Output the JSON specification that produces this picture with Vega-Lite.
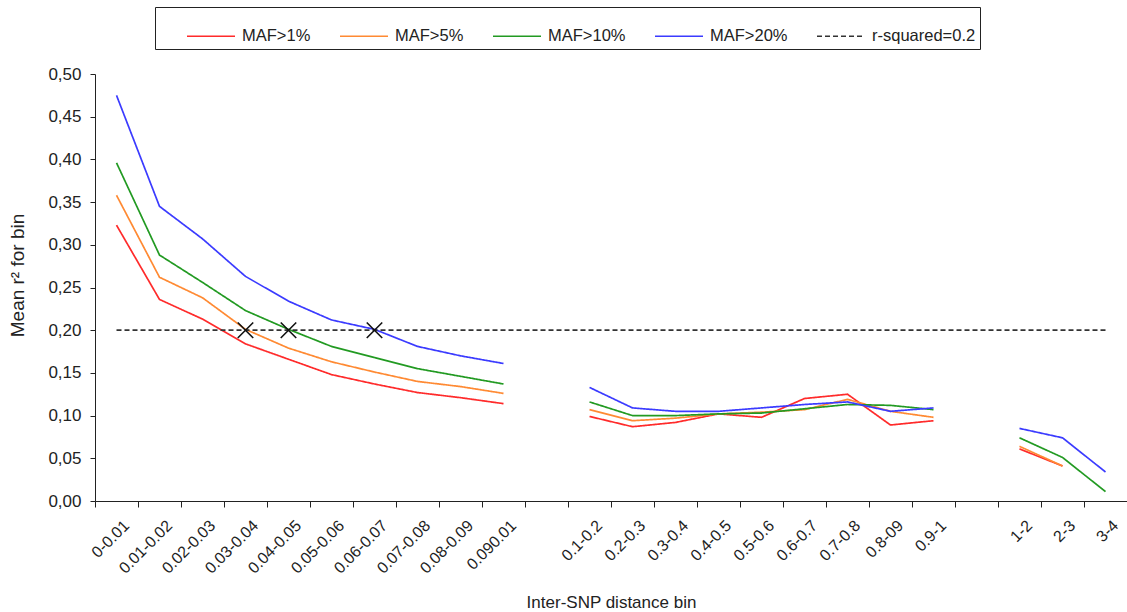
{
  "$schema": "https://vega.github.io/schema/vega-lite/v6.json",
  "autosize": "none",
  "padding": {"left": 95, "top": 74, "right": 0, "bottom": 111},
  "width": 1032,
  "height": 427,
  "background": "white",
  "config": {
    "view": {"stroke": null},
    "font": "Liberation Sans",
    "axis": {
      "domainColor": "#222",
      "tickColor": "#222",
      "labelColor": "#222",
      "titleColor": "#222",
      "grid": false,
      "labelFont": "Liberation Sans",
      "titleFont": "Liberation Sans",
      "titleFontWeight": "normal"
    },
    "legend": {
      "orient": "none",
      "legendX": 60,
      "legendY": -67,
      "direction": "horizontal",
      "columns": 5,
      "strokeColor": "#222",
      "padding": 4,
      "symbolType": "stroke",
      "symbolSize": 2304,
      "symbolStrokeWidth": 1.6,
      "symbolOffset": 27,
      "columnPadding": 1,
      "labelFont": "Liberation Sans",
      "labelFontSize": 16.5,
      "labelColor": "#222",
      "labelOffset": 6
    }
  },
  "datasets": {
    "curves": [
      {"series": "MAF>1%", "seg": "a", "bin": "0-0.01", "r2": 0.323},
      {"series": "MAF>1%", "seg": "a", "bin": "0.01-0.02", "r2": 0.236},
      {"series": "MAF>1%", "seg": "a", "bin": "0.02-0.03", "r2": 0.213},
      {"series": "MAF>1%", "seg": "a", "bin": "0.03-0.04", "r2": 0.184},
      {"series": "MAF>1%", "seg": "a", "bin": "0.04-0.05", "r2": 0.166},
      {"series": "MAF>1%", "seg": "a", "bin": "0.05-0.06", "r2": 0.148},
      {"series": "MAF>1%", "seg": "a", "bin": "0.06-0.07", "r2": 0.137},
      {"series": "MAF>1%", "seg": "a", "bin": "0.07-0.08", "r2": 0.127},
      {"series": "MAF>1%", "seg": "a", "bin": "0.08-0.09", "r2": 0.121},
      {"series": "MAF>1%", "seg": "a", "bin": "0.090.01", "r2": 0.114},
      {"series": "MAF>1%", "seg": "b", "bin": "0.1-0.2", "r2": 0.099},
      {"series": "MAF>1%", "seg": "b", "bin": "0.2-0.3", "r2": 0.087},
      {"series": "MAF>1%", "seg": "b", "bin": "0.3-0.4", "r2": 0.092},
      {"series": "MAF>1%", "seg": "b", "bin": "0.4-0.5", "r2": 0.102},
      {"series": "MAF>1%", "seg": "b", "bin": "0.5-0.6", "r2": 0.098},
      {"series": "MAF>1%", "seg": "b", "bin": "0.6-0.7", "r2": 0.120},
      {"series": "MAF>1%", "seg": "b", "bin": "0.7-0.8", "r2": 0.125},
      {"series": "MAF>1%", "seg": "b", "bin": "0.8-09", "r2": 0.089},
      {"series": "MAF>1%", "seg": "b", "bin": "0.9-1", "r2": 0.094},
      {"series": "MAF>1%", "seg": "c", "bin": "1-2", "r2": 0.061},
      {"series": "MAF>1%", "seg": "c", "bin": "2-3", "r2": 0.041},

      {"series": "MAF>5%", "seg": "a", "bin": "0-0.01", "r2": 0.358},
      {"series": "MAF>5%", "seg": "a", "bin": "0.01-0.02", "r2": 0.262},
      {"series": "MAF>5%", "seg": "a", "bin": "0.02-0.03", "r2": 0.238},
      {"series": "MAF>5%", "seg": "a", "bin": "0.03-0.04", "r2": 0.201},
      {"series": "MAF>5%", "seg": "a", "bin": "0.04-0.05", "r2": 0.179},
      {"series": "MAF>5%", "seg": "a", "bin": "0.05-0.06", "r2": 0.163},
      {"series": "MAF>5%", "seg": "a", "bin": "0.06-0.07", "r2": 0.151},
      {"series": "MAF>5%", "seg": "a", "bin": "0.07-0.08", "r2": 0.140},
      {"series": "MAF>5%", "seg": "a", "bin": "0.08-0.09", "r2": 0.134},
      {"series": "MAF>5%", "seg": "a", "bin": "0.090.01", "r2": 0.126},
      {"series": "MAF>5%", "seg": "b", "bin": "0.1-0.2", "r2": 0.107},
      {"series": "MAF>5%", "seg": "b", "bin": "0.2-0.3", "r2": 0.094},
      {"series": "MAF>5%", "seg": "b", "bin": "0.3-0.4", "r2": 0.097},
      {"series": "MAF>5%", "seg": "b", "bin": "0.4-0.5", "r2": 0.102},
      {"series": "MAF>5%", "seg": "b", "bin": "0.5-0.6", "r2": 0.104},
      {"series": "MAF>5%", "seg": "b", "bin": "0.6-0.7", "r2": 0.107},
      {"series": "MAF>5%", "seg": "b", "bin": "0.7-0.8", "r2": 0.119},
      {"series": "MAF>5%", "seg": "b", "bin": "0.8-09", "r2": 0.105},
      {"series": "MAF>5%", "seg": "b", "bin": "0.9-1", "r2": 0.098},
      {"series": "MAF>5%", "seg": "c", "bin": "1-2", "r2": 0.064},
      {"series": "MAF>5%", "seg": "c", "bin": "2-3", "r2": 0.041},

      {"series": "MAF>10%", "seg": "a", "bin": "0-0.01", "r2": 0.396},
      {"series": "MAF>10%", "seg": "a", "bin": "0.01-0.02", "r2": 0.288},
      {"series": "MAF>10%", "seg": "a", "bin": "0.02-0.03", "r2": 0.256},
      {"series": "MAF>10%", "seg": "a", "bin": "0.03-0.04", "r2": 0.223},
      {"series": "MAF>10%", "seg": "a", "bin": "0.04-0.05", "r2": 0.201},
      {"series": "MAF>10%", "seg": "a", "bin": "0.05-0.06", "r2": 0.181},
      {"series": "MAF>10%", "seg": "a", "bin": "0.06-0.07", "r2": 0.168},
      {"series": "MAF>10%", "seg": "a", "bin": "0.07-0.08", "r2": 0.155},
      {"series": "MAF>10%", "seg": "a", "bin": "0.08-0.09", "r2": 0.146},
      {"series": "MAF>10%", "seg": "a", "bin": "0.090.01", "r2": 0.137},
      {"series": "MAF>10%", "seg": "b", "bin": "0.1-0.2", "r2": 0.116},
      {"series": "MAF>10%", "seg": "b", "bin": "0.2-0.3", "r2": 0.100},
      {"series": "MAF>10%", "seg": "b", "bin": "0.3-0.4", "r2": 0.100},
      {"series": "MAF>10%", "seg": "b", "bin": "0.4-0.5", "r2": 0.102},
      {"series": "MAF>10%", "seg": "b", "bin": "0.5-0.6", "r2": 0.103},
      {"series": "MAF>10%", "seg": "b", "bin": "0.6-0.7", "r2": 0.108},
      {"series": "MAF>10%", "seg": "b", "bin": "0.7-0.8", "r2": 0.113},
      {"series": "MAF>10%", "seg": "b", "bin": "0.8-09", "r2": 0.112},
      {"series": "MAF>10%", "seg": "b", "bin": "0.9-1", "r2": 0.107},
      {"series": "MAF>10%", "seg": "c", "bin": "1-2", "r2": 0.074},
      {"series": "MAF>10%", "seg": "c", "bin": "2-3", "r2": 0.051},
      {"series": "MAF>10%", "seg": "c", "bin": "3-4", "r2": 0.011},

      {"series": "MAF>20%", "seg": "a", "bin": "0-0.01", "r2": 0.475},
      {"series": "MAF>20%", "seg": "a", "bin": "0.01-0.02", "r2": 0.345},
      {"series": "MAF>20%", "seg": "a", "bin": "0.02-0.03", "r2": 0.307},
      {"series": "MAF>20%", "seg": "a", "bin": "0.03-0.04", "r2": 0.263},
      {"series": "MAF>20%", "seg": "a", "bin": "0.04-0.05", "r2": 0.234},
      {"series": "MAF>20%", "seg": "a", "bin": "0.05-0.06", "r2": 0.212},
      {"series": "MAF>20%", "seg": "a", "bin": "0.06-0.07", "r2": 0.201},
      {"series": "MAF>20%", "seg": "a", "bin": "0.07-0.08", "r2": 0.181},
      {"series": "MAF>20%", "seg": "a", "bin": "0.08-0.09", "r2": 0.170},
      {"series": "MAF>20%", "seg": "a", "bin": "0.090.01", "r2": 0.161},
      {"series": "MAF>20%", "seg": "b", "bin": "0.1-0.2", "r2": 0.133},
      {"series": "MAF>20%", "seg": "b", "bin": "0.2-0.3", "r2": 0.109},
      {"series": "MAF>20%", "seg": "b", "bin": "0.3-0.4", "r2": 0.105},
      {"series": "MAF>20%", "seg": "b", "bin": "0.4-0.5", "r2": 0.105},
      {"series": "MAF>20%", "seg": "b", "bin": "0.5-0.6", "r2": 0.109},
      {"series": "MAF>20%", "seg": "b", "bin": "0.6-0.7", "r2": 0.113},
      {"series": "MAF>20%", "seg": "b", "bin": "0.7-0.8", "r2": 0.116},
      {"series": "MAF>20%", "seg": "b", "bin": "0.8-09", "r2": 0.105},
      {"series": "MAF>20%", "seg": "b", "bin": "0.9-1", "r2": 0.109},
      {"series": "MAF>20%", "seg": "c", "bin": "1-2", "r2": 0.085},
      {"series": "MAF>20%", "seg": "c", "bin": "2-3", "r2": 0.074},
      {"series": "MAF>20%", "seg": "c", "bin": "3-4", "r2": 0.034},

      {"series": "r-squared=0.2", "seg": "ref", "bin": "0-0.01", "r2": 0.2},
      {"series": "r-squared=0.2", "seg": "ref", "bin": "3-4", "r2": 0.2}
    ],
    "crossings": [
      {"bin": "0.03-0.04", "r2": 0.2},
      {"bin": "0.04-0.05", "r2": 0.2},
      {"bin": "0.06-0.07", "r2": 0.2}
    ]
  },
  "layer": [
    {
      "data": {"name": "curves"},
      "mark": {"type": "line", "strokeWidth": 1.7},
      "encoding": {
        "x": {
          "field": "bin",
          "type": "ordinal",
          "bandPosition": 0.5,
          "scale": {
            "type": "band",
            "paddingInner": 0,
            "paddingOuter": 0,
            "domain": ["0-0.01", "0.01-0.02", "0.02-0.03", "0.03-0.04", "0.04-0.05", "0.05-0.06", "0.06-0.07", "0.07-0.08", "0.08-0.09", "0.090.01", "gap1", "0.1-0.2", "0.2-0.3", "0.3-0.4", "0.4-0.5", "0.5-0.6", "0.6-0.7", "0.7-0.8", "0.8-09", "0.9-1", "gap2", "1-2", "2-3", "3-4"]
          },
          "axis": {
            "title": "Inter-SNP distance bin",
            "titleFontSize": 17,
            "titleY": 93,
            "titleBaseline": "top",
            "labelAngle": -45,
            "labelFontSize": 16,
            "labelPadding": 10,
            "labelOffset": 4,
            "tickBand": "extent",
            "tickSize": 6,
            "labelExpr": "(datum.label == 'gap1' || datum.label == 'gap2') ? '' : datum.label"
          }
        },
        "y": {
          "field": "r2",
          "type": "quantitative",
          "scale": {"domain": [0, 0.5], "nice": false},
          "axis": {
            "title": "Mean r² for bin",
            "titleFontSize": 19,
            "titleY": 201,
            "titlePadding": 20,
            "values": [0, 0.05, 0.1, 0.15, 0.2, 0.25, 0.3, 0.35, 0.4, 0.45, 0.5],
            "labelExpr": "replace(format(datum.value, '.2f'), '.', ',')",
            "labelFontSize": 17,
            "labelPadding": 9,
            "tickSize": 5
          }
        },
        "color": {
          "field": "series",
          "type": "nominal",
          "title": null,
          "scale": {
            "domain": ["MAF>1%", "MAF>5%", "MAF>10%", "MAF>20%", "r-squared=0.2"],
            "range": ["#ff2b2b", "#ff8a33", "#229a22", "#3b3bff", "#333333"]
          }
        },
        "strokeDash": {
          "field": "series",
          "type": "nominal",
          "title": null,
          "scale": {
            "domain": ["MAF>1%", "MAF>5%", "MAF>10%", "MAF>20%", "r-squared=0.2"],
            "range": [[1, 0], [1, 0], [1, 0], [1, 0], [5, 3]]
          }
        },
        "detail": {"field": "seg"}
      }
    },
    {
      "data": {"name": "crossings"},
      "mark": {
        "type": "point",
        "shape": "M-1,-1L1,1M1,-1L-1,1",
        "filled": false,
        "stroke": "#111",
        "strokeWidth": 1.6,
        "size": 240,
        "opacity": 1
      },
      "encoding": {
        "x": {"field": "bin", "type": "ordinal", "bandPosition": 0.5},
        "y": {"field": "r2", "type": "quantitative"}
      }
    }
  ]
}
